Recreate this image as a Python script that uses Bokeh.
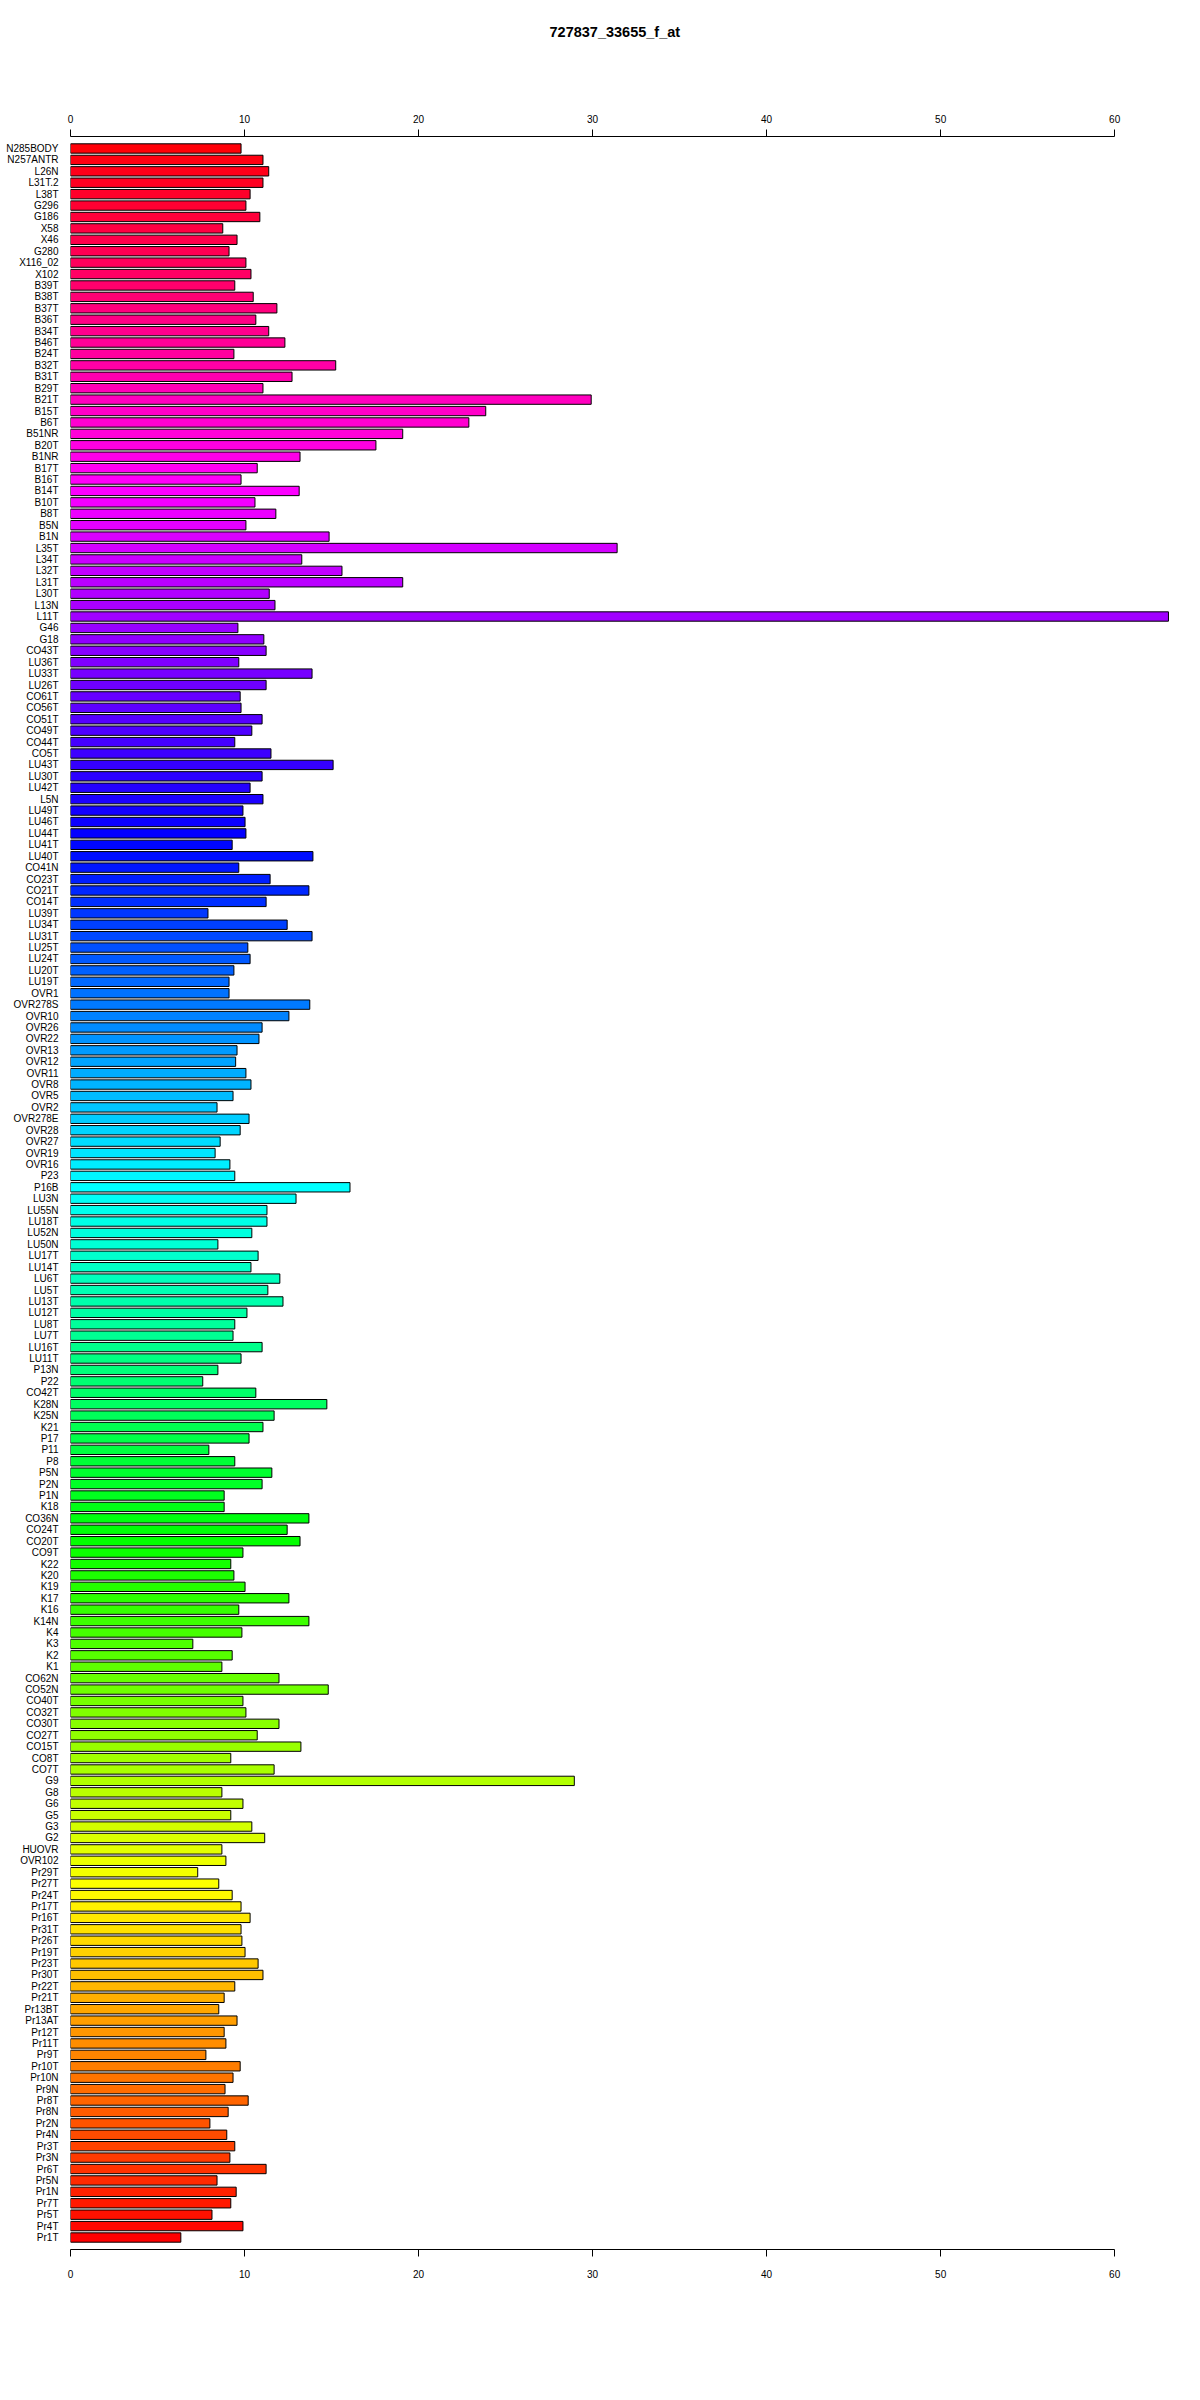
import colorsys
from bokeh.plotting import figure
from bokeh.models import FactorRange, Range1d, LinearAxis, FixedTicker, ColumnDataSource, Title
from bokeh.embed import file_html
from bokeh.resources import INLINE

title_text = "727837_33655_f_at"

labels = ["N285BODY","N257ANTR","L26N","L31T.2","L38T","G296","G186","X58","X46","G280","X116_02","X102","B39T","B38T","B37T","B36T","B34T",
"B46T","B24T","B32T","B31T","B29T","B21T","B15T","B6T","B51NR","B20T","B1NR","B17T","B16T","B14T","B10T","B8T","B5N",
"B1N","L35T","L34T","L32T","L31T","L30T","L13N","L11T","G46","G18","CO43T","LU36T","LU33T","LU26T","CO61T","CO56T","CO51T",
"CO49T","CO44T","CO5T","LU43T","LU30T","LU42T","L5N","LU49T","LU46T","LU44T","LU41T","LU40T","CO41N","CO23T","CO21T","CO14T","LU39T",
"LU34T","LU31T","LU25T","LU24T","LU20T","LU19T","OVR1","OVR278S","OVR10","OVR26","OVR22","OVR13","OVR12","OVR11","OVR8","OVR5","OVR2",
"OVR278E","OVR28","OVR27","OVR19","OVR16","P23","P16B","LU3N","LU55N","LU18T","LU52N","LU50N","LU17T","LU14T","LU6T","LU5T","LU13T",
"LU12T","LU8T","LU7T","LU16T","LU11T","P13N","P22","CO42T","K28N","K25N","K21","P17","P11","P8","P5N","P2N","P1N",
"K18","CO36N","CO24T","CO20T","CO9T","K22","K20","K19","K17","K16","K14N","K4","K3","K2","K1","CO62N","CO52N",
"CO40T","CO32T","CO30T","CO27T","CO15T","CO8T","CO7T","G9","G8","G6","G5","G3","G2","HUOVR","OVR102","Pr29T","Pr27T",
"Pr24T","Pr17T","Pr16T","Pr31T","Pr26T","Pr19T","Pr23T","Pr30T","Pr22T","Pr21T","Pr13BT","Pr13AT","Pr12T","Pr11T","Pr9T","Pr10T","Pr10N",
"Pr9N","Pr8T","Pr8N","Pr2N","Pr4N","Pr3T","Pr3N","Pr6T","Pr5N","Pr1N","Pr7T","Pr5T","Pr4T","Pr1T"]

values = [9.80, 11.06, 11.39, 11.06, 10.32, 10.08, 10.88, 8.75, 9.57, 9.11, 10.08, 10.37, 9.44, 10.50, 11.86, 10.65, 11.39,
12.32, 9.39, 15.24, 12.73, 11.06, 29.92, 23.86, 22.89, 19.09, 17.55, 13.19, 10.73, 9.80, 13.14, 10.60, 11.80, 10.08,
14.86, 31.41, 13.29, 15.60, 19.09, 11.42, 11.75, 63.09, 9.62, 11.11, 11.24, 9.67, 13.88, 11.24, 9.75, 9.80, 11.01,
10.42, 9.44, 11.52, 15.09, 11.01, 10.32, 11.06, 9.91, 10.03, 10.08, 9.29, 13.93, 9.67, 11.47, 13.70, 11.24, 7.90,
12.45, 13.88, 10.19, 10.32, 9.39, 9.11, 9.11, 13.75, 12.55, 11.01, 10.83, 9.57, 9.49, 10.08, 10.37, 9.34, 8.42,
10.26, 9.75, 8.60, 8.31, 9.16, 9.44, 16.06, 12.96, 11.29, 11.29, 10.42, 8.47, 10.78, 10.37, 12.03, 11.34, 12.21,
10.14, 9.44, 9.34, 11.01, 9.80, 8.47, 7.60, 10.65, 14.73, 11.70, 11.06, 10.26, 7.95, 9.44, 11.57, 11.01, 8.83,
8.83, 13.70, 12.45, 13.19, 9.91, 9.21, 9.39, 10.03, 12.55, 9.67, 13.70, 9.85, 7.03, 9.29, 8.70, 11.98, 14.81,
9.91, 10.08, 11.98, 10.73, 13.24, 9.21, 11.70, 28.95, 8.70, 9.91, 9.21, 10.42, 11.16, 8.70, 8.93, 7.31, 8.52,
9.29, 9.80, 10.32, 9.80, 9.85, 10.03, 10.78, 11.06, 9.44, 8.83, 8.52, 9.57, 8.83, 8.93, 7.78, 9.75, 9.34,
8.88, 10.21, 9.06, 8.01, 8.98, 9.44, 9.16, 11.24, 8.42, 9.52, 9.21, 8.13, 9.91, 6.34]

x_ticks = [0, 10, 20, 30, 40, 50, 60]

n = len(labels)
colors = []
for k in range(n):
    h = (n - 1 - k) / n
    r, g, b = colorsys.hsv_to_rgb(h, 1.0, 1.0)
    colors.append("#%02x%02x%02x" % (int(round(r * 255)), int(round(g * 255)), int(round(b * 255))))

src = ColumnDataSource(dict(label=labels, value=values, color=colors))

FONT = "Liberation Sans"

p = figure(width=1184, height=2384,
           y_range=FactorRange(factors=labels[::-1], range_padding=0.55, range_padding_units="absolute"),
           x_range=Range1d(0, 63.15),
           output_backend="svg", toolbar_location=None,
           x_axis_location=None, y_axis_location="left",
           min_border_left=70, min_border_right=15, min_border_top=136, min_border_bottom=135,
           title=None)

p.hbar(y="label", left=0, right="value", height=0.82, fill_color="color",
       line_color="black", line_width=1, source=src)

for loc, standoff in (("above", 7), ("below", 13)):
    ax = LinearAxis(ticker=FixedTicker(ticks=x_ticks), bounds=(0, 60))
    ax.major_label_text_font = FONT
    ax.major_label_text_font_size = "10px"
    ax.major_label_text_color = "black"
    ax.axis_line_color = "black"
    ax.major_tick_line_color = "black"
    ax.major_tick_out = 7
    ax.major_tick_in = 0
    ax.minor_tick_line_color = None
    ax.major_label_standoff = standoff
    p.add_layout(ax, loc)

# invisible spacer between the top axis and the title (white tick on white, no label drawn)
spacer = LinearAxis(ticker=FixedTicker(ticks=[30]), axis_line_color=None,
                    major_tick_line_color="white", minor_tick_line_color=None,
                    major_label_text_color=None, major_label_text_font_size="1px",
                    major_tick_out=68, major_tick_in=0, minor_tick_out=0,
                    major_label_standoff=0)
p.add_layout(spacer, "above")

title = Title(text=title_text, text_font=FONT, text_font_size="14.5px",
              text_font_style="bold", text_color="black",
              align="left", offset=479, standoff=8)
p.add_layout(title, "above")

ya = p.yaxis[0]
ya.axis_line_color = None
ya.major_tick_line_color = None
ya.minor_tick_line_color = None
ya.major_tick_out = 0
ya.major_tick_in = 0
ya.major_label_standoff = 12
ya.major_label_text_font = FONT
ya.major_label_text_font_size = "10px"
ya.major_label_text_color = "black"

p.xgrid.visible = False
p.ygrid.visible = False
p.outline_line_color = None
p.background_fill_color = "white"
p.border_fill_color = "white"

open("out.html", "w").write(file_html(p, INLINE))
